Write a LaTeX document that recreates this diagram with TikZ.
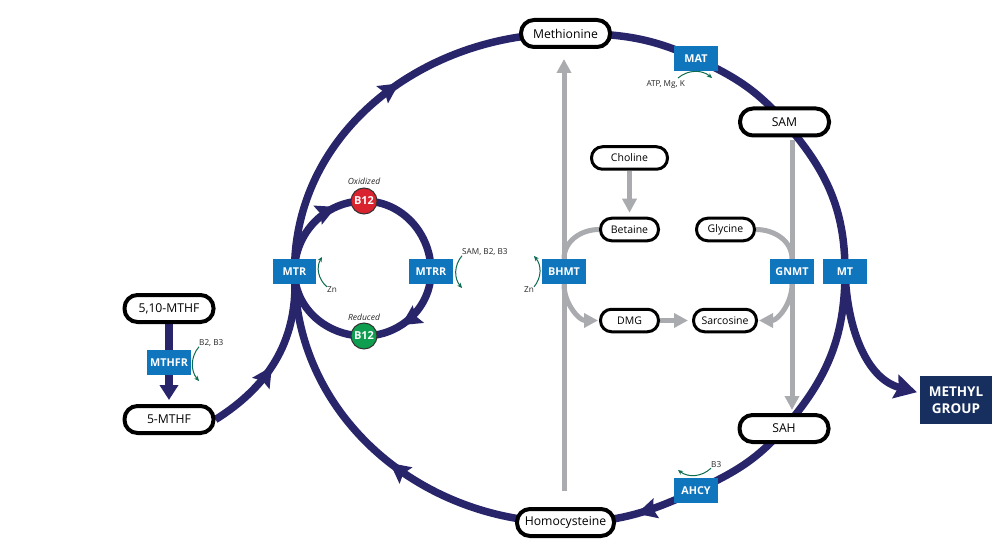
\documentclass[tikz,border=0pt]{standalone}
\usepackage{fontspec}
\setmainfont{Open Sans}
\usetikzlibrary{arrows.meta,backgrounds,decorations.markings}
\definecolor{pathnavy}{HTML}{29256B}
\definecolor{enzblue}{HTML}{0F75BC}
\definecolor{sidegrey}{HTML}{A9ABAE}
\definecolor{cofgreen}{HTML}{0C6B50}
\definecolor{groupblue}{HTML}{172F5F}
\definecolor{oxred}{HTML}{D9232E}
\definecolor{redgreen}{HTML}{0F9D4F}
\tikzset{
    metab/.style={draw=black,line width=4pt,rounded corners=13pt,fill=white,minimum width=89pt,minimum height=27pt,inner sep=0pt,font=\fontsize{12.2}{14}\selectfont},
    smallmetab/.style={draw=black,line width=3pt,rounded corners=11pt,fill=white,minimum height=22.5pt,inner sep=0pt,font=\fontsize{10.5}{12}\selectfont},
    enzyme/.style={fill=enzblue,text=white,minimum width=43.5pt,minimum height=25pt,inner sep=0pt,font=\fontsize{10.8}{12}\selectfont\bfseries},
    btwelve/.style={circle,draw=black!80,line width=1pt,text=white,minimum size=26pt,inner sep=0pt,font=\fontsize{11}{12}\selectfont\bfseries},
    coflabel/.style={inner sep=0pt,text=black!85,font=\fontsize{8.2}{10}\selectfont},
    navy/.style={draw=pathnavy,line width=7.5pt},
    greyline/.style={draw=sidegrey,line width=5pt},
    greyarrow/.style={greyline,-{Triangle[length=14pt,width=14pt]}},
    cof/.style={draw=cofgreen,line width=1pt,-{Stealth[length=5pt,width=4.5pt]}},
    midarrow/.style={postaction={decorate,decoration={markings,mark=at position #1 with {\arrow{Stealth[length=20pt,width=20pt,inset=3pt]}}}}}
}
\begin{document}
\begin{tikzpicture}[x=1pt,y=1pt]
    \useasboundingbox (0,0) rectangle (1003,547);
    %% Main cycle
    \node[metab] (Methionine) at (565.5,513.5) {Methionine};
    \node[metab] (SAM) at (784.5,425) {SAM};
    \node[metab] (SAH) at (784,118.5) {SAH};
    \node[metab,minimum width=97pt] (Homocysteine) at (565.5,24.5) {Homocysteine};
    \node[enzyme] (MAT) at (696,488.5) {MAT};
    \node[enzyme] (MT) at (845,275.5) {MT};
    \node[enzyme] (AHCY) at (696,56.5) {AHCY};
    \node[enzyme] (MTR) at (294.5,275.5) {MTR};
    %% Folate
    \node[metab] (TenMTHF) at (169,238.5) {5,10-MTHF};
    \node[metab] (FiveMTHF) at (169,127.5) {5-MTHF};
    \node[enzyme] (MTHFR) at (169,184.5) {MTHFR};
    %% B12 loop
    \node[enzyme] (MTRR) at (431,275.5) {MTRR};
    \node[btwelve,fill=oxred] (OxB) at (364,346) {B12};
    \node[btwelve,fill=redgreen] (RedB) at (364,211) {B12};
    \node[coflabel,font=\fontsize{8.5}{10}\selectfont\itshape,above=2.5pt] at (OxB.north) (OxLabel) {Oxidized};
    \node[coflabel,font=\fontsize{8.5}{10}\selectfont\itshape,above=1.5pt] at (RedB.north) (RedLabel) {Reduced};
    %% Inner nodes
    \node[smallmetab,minimum width=76pt] (Choline) at (629.5,389) {Choline};
    \node[smallmetab,minimum width=58pt] (Betaine) at (629.5,317.5) {Betaine};
    \node[smallmetab,minimum width=58pt] (Glycine) at (725.5,317.5) {Glycine};
    \node[smallmetab,minimum width=58pt] (DMG) at (629.5,226.5) {DMG};
    \node[smallmetab,minimum width=63pt] (Sarcosine) at (725,226.5) {Sarcosine};
    \node[enzyme] (BHMT) at (564,275.5) {BHMT};
    \node[enzyme] (GNMT) at (792,275.5) {GNMT};
    \node[fill=groupblue,text=white,minimum width=72pt,minimum height=48pt,inner sep=0pt,align=center,font=\fontsize{13.5}{17}\selectfont\bfseries] (MethylGroup) at (956,147) {METHYL\\GROUP};
    \coordinate (BHMTfoot) at (564,56);
    %% Cofactor labels
    \node[coflabel,anchor=west] (ZnMTR) at (327,257) {Zn};
    \node[coflabel,anchor=west] (SBB) at (462,295) {SAM, B2, B3};
    \node[coflabel,anchor=west] (BBMTHFR) at (199,204) {B2, B3};
    \node[coflabel,anchor=east] (ZnBHMT) at (534,257) {Zn};
    \node[coflabel,anchor=east] (AMK) at (685,462) {ATP, Mg, K};
    \node[coflabel,anchor=west] (BAHCY) at (711,82) {B3};

    \begin{scope}[on background layer]
        %% Wheel
        \draw[navy] (Methionine.center) to[out=0,in=155] (MAT.center);
        \draw[navy] (MAT.center) to[out=-25,in=131] (SAM.center);
        \draw[navy] (SAM.center) to[out=-49,in=90] (MT.center);
        \draw[navy] (MT.center) to[out=-90,in=49] (SAH.center);
        \draw[navy] (SAH.center) to[out=-131,in=25] (AHCY.center);
        \draw[navy,midarrow=0.47] (AHCY.center) to[out=205,in=0] (Homocysteine.center);
        \draw[navy,midarrow=0.46] (Homocysteine.center) to[out=180,in=-90] (MTR.center);
        \draw[navy,midarrow=0.56] (MTR.center) to[out=90,in=180] (Methionine.center);
        %% Branches
        \draw[navy,midarrow=0.44] (FiveMTHF.east) to[out=32,in=-86] (MTR.center);
        \draw[navy,shorten >=3pt,-{Stealth[length=22pt,width=24pt,inset=3pt]}] (MT.center) to[out=-88,in=165] ([yshift=7pt]MethylGroup.west);
        \draw[navy,shorten >=4pt,-{Triangle[length=15pt,width=18pt]}] (TenMTHF) -- (FiveMTHF);
        %% Loop
        \draw[navy,midarrow=0.74] (MTR.center) to[out=90,in=180] (OxB.center);
        \draw[navy] (OxB.center) to[out=0,in=90] (MTRR.center);
        \draw[navy,midarrow=0.62] (MTRR.center) to[out=-90,in=0] (RedB.center);
        \draw[navy] (RedB.center) to[out=180,in=-90] (MTR.center);
        %% Grey side paths
        \draw[greyarrow,shorten >=10pt] (BHMTfoot) -- (BHMT |- Methionine.south);
        \draw[greyarrow,shorten >=4pt] (Choline) -- (Betaine);
        \draw[greyarrow,shorten >=3pt,shorten <=3pt] (GNMT |- SAM.south) -- (GNMT |- SAH.north);
        \draw[greyline] (Betaine.west) to[out=180,in=90] (BHMT.north);
        \draw[greyarrow,shorten >=1pt] (BHMT.south) to[out=-90,in=180] (DMG.west);
        \draw[greyarrow,shorten >=4pt] (DMG) -- (Sarcosine);
        \draw[greyline] (Glycine.east) to[out=0,in=90] (GNMT.north);
        \draw[greyarrow,shorten >=1pt] (GNMT.south) to[out=-90,in=0] (Sarcosine.east);
    \end{scope}

    %% Cofactor curves
    \draw[cof] (ZnMTR.north west) to[bend left=40] ([shift={(27.5,14.5)}]MTR.center);
    \draw[cof] (SBB.south west) to[bend right=40] ([shift={(31,-16.5)}]MTRR.center);
    \draw[cof] (BBMTHFR.south west) to[bend right=40] ([shift={(30,-18.5)}]MTHFR.center);
    \draw[cof] (ZnBHMT.north east) to[bend right=40] ([shift={(-30,15.5)}]BHMT.center);
    \draw[cof] ([shift={(-18,-19.5)}]MAT.center) to[bend left=40] ([shift={(16,-19.5)}]MAT.center);
    \draw[cof] (BAHCY.south west) to[bend left=40] ([shift={(-18,20.5)}]AHCY.center);
\end{tikzpicture}
\end{document}
